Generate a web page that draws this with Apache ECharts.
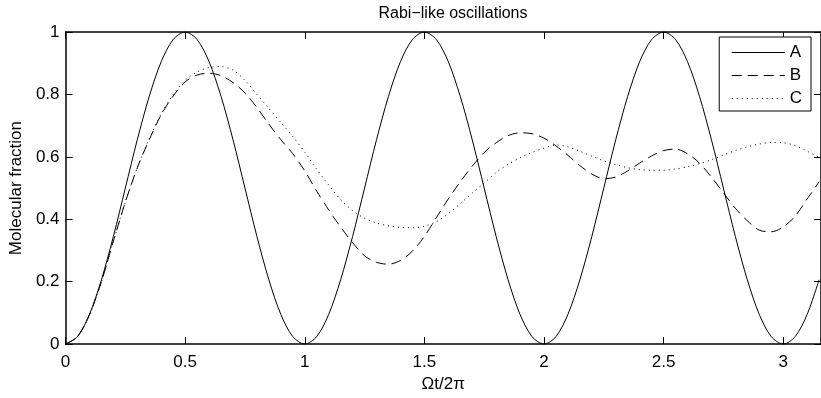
<!DOCTYPE html>
<html>
<head>
<meta charset="utf-8">
<script src="https://cdn.jsdelivr.net/npm/echarts@6/dist/echarts.min.js"></script>
<style>
html,body{margin:0;padding:0;background:#fff;}
#chart{width:821px;height:398px;}
</style>
</head>
<body>
<div id="chart"></div>
<script>
// sample positions (Ωt/2π)
var tGrid = [0,0.05,0.1,0.15,0.2,0.25,0.3,0.35,0.4,0.45,0.5,0.55,0.6,0.65,0.7,0.75,0.8,0.85,0.9,0.95,
  1,1.05,1.1,1.15,1.2,1.25,1.3,1.35,1.4,1.45,1.5,1.55,1.6,1.65,1.7,1.75,1.8,1.85,1.9,1.95,
  2,2.05,2.1,2.15,2.2,2.25,2.3,2.35,2.4,2.45,2.5,2.55,2.6,2.65,2.7,2.75,2.8,2.85,2.9,2.95,
  3,3.05,3.1,3.15];

var valuesA = [0,0.024,0.095,0.206,0.345,0.5,0.655,0.794,0.905,0.976,1,0.976,0.905,0.794,0.655,0.5,0.345,0.206,0.095,0.024,
  0,0.024,0.095,0.206,0.345,0.5,0.655,0.794,0.905,0.976,1,0.976,0.905,0.794,0.655,0.5,0.345,0.206,0.095,0.024,
  0,0.024,0.095,0.206,0.345,0.5,0.655,0.794,0.905,0.976,1,0.976,0.905,0.794,0.655,0.5,0.345,0.206,0.095,0.024,
  0,0.024,0.095,0.206];

var valuesB = [0,0.024,0.094,0.2,0.33,0.455,0.565,0.655,0.735,0.795,0.84,0.862,0.868,0.86,0.838,0.805,0.758,0.705,0.655,0.61,
  0.555,0.49,0.43,0.375,0.325,0.283,0.262,0.256,0.268,0.298,0.345,0.405,0.465,0.52,0.57,0.614,0.645,0.668,0.677,0.674,
  0.66,0.635,0.605,0.572,0.545,0.53,0.535,0.555,0.58,0.603,0.62,0.625,0.61,0.58,0.535,0.485,0.435,0.395,0.365,0.36,
  0.375,0.41,0.465,0.52];

var valuesC = [0,0.024,0.094,0.2,0.33,0.455,0.565,0.658,0.738,0.8,0.845,0.872,0.886,0.889,0.878,0.845,0.8,0.755,0.71,0.665,
  0.615,0.56,0.51,0.463,0.428,0.403,0.388,0.379,0.374,0.373,0.378,0.392,0.418,0.45,0.484,0.516,0.55,0.576,0.597,0.614,
  0.628,0.638,0.632,0.618,0.602,0.587,0.575,0.565,0.559,0.557,0.557,0.561,0.568,0.578,0.591,0.606,0.62,0.632,0.641,0.646,
  0.645,0.636,0.618,0.598];

var seriesNames = ['A','B','C'];
var xTicks = {min:0, max:3.158, interval:0.5};
var yTicks = {min:0, max:1, interval:0.2};

function pairs(vals){ return tGrid.map(function(t,i){ return [t, vals[i]]; }); }

var FONT = '"Liberation Sans", Arial, Helvetica, sans-serif';
var axisBase = {
  type:'value',
  axisLine:{show:true, onZero:false, lineStyle:{color:'#000', width:1.5}},
  axisTick:{show:true, inside:true, length:7, lineStyle:{color:'#000', width:1}},
  splitLine:{show:false}
};

var chart = echarts.init(document.getElementById('chart'), null, {renderer:'canvas'});
chart.setOption({
  animation:false,
  backgroundColor:'#fff',
  title:{
    text:'Rabi\u2212like oscillations',
    left:448, top:1, textAlign:'center',
    textStyle:{fontFamily:FONT, fontSize:16, fontWeight:'normal', color:'#000'}
  },
  legend:{
    data:seriesNames,
    orient:'vertical',
    right:10, top:37,
    itemWidth:53, itemHeight:14, itemGap:6,
    padding:[7,9,4,12],
    borderColor:'#000', borderWidth:1, backgroundColor:'#fff',
    itemStyle:{color:'rgba(0,0,0,0)', borderWidth:0, opacity:0},
    lineStyle:{width:1},
    textStyle:{fontFamily:FONT, fontSize:17, color:'#000', lineHeight:17}
  },
  grid:{left:65, top:32, bottom:53, right:0, containLabel:false},
  xAxis:[
    Object.assign({}, axisBase, {
      position:'bottom', min:xTicks.min, max:xTicks.max, interval:xTicks.interval,
      name:'\u03A9t/2\u03C0', nameLocation:'middle', nameGap:29,
      nameTextStyle:{fontFamily:FONT, fontSize:17, color:'#000'},
      axisLabel:{fontFamily:FONT, fontSize:17, color:'#000', margin:10, showMaxLabel:false}
    }),
    Object.assign({}, axisBase, {
      position:'top', min:xTicks.min, max:xTicks.max, interval:xTicks.interval,
      axisLabel:{show:false}
    })
  ],
  yAxis:[
    Object.assign({}, axisBase, {
      position:'left', min:yTicks.min, max:yTicks.max, interval:yTicks.interval,
      name:'Molecular fraction', nameLocation:'middle', nameGap:37,
      nameTextStyle:{fontFamily:FONT, fontSize:17, color:'#000'},
      axisLabel:{fontFamily:FONT, fontSize:17, color:'#000', margin:6}
    }),
    Object.assign({}, axisBase, {
      position:'right', min:yTicks.min, max:yTicks.max, interval:yTicks.interval,
      axisLabel:{show:false}
    })
  ],
  series:[
    {name:seriesNames[0], type:'line', data:pairs(valuesA), smooth:0.3, symbol:'none',
     lineStyle:{color:'#000', width:1, type:'solid'}, itemStyle:{color:'#000'}},
    {name:seriesNames[1], type:'line', data:pairs(valuesB), smooth:0.3, symbol:'none',
     lineStyle:{color:'#000', width:1, type:[10,6]}, itemStyle:{color:'#000'}},
    {name:seriesNames[2], type:'line', data:pairs(valuesC), smooth:0.3, symbol:'none',
     lineStyle:{color:'#000', width:1, type:[1,4]}, itemStyle:{color:'#000'}}
  ]
});
</script>
</body>
</html>
